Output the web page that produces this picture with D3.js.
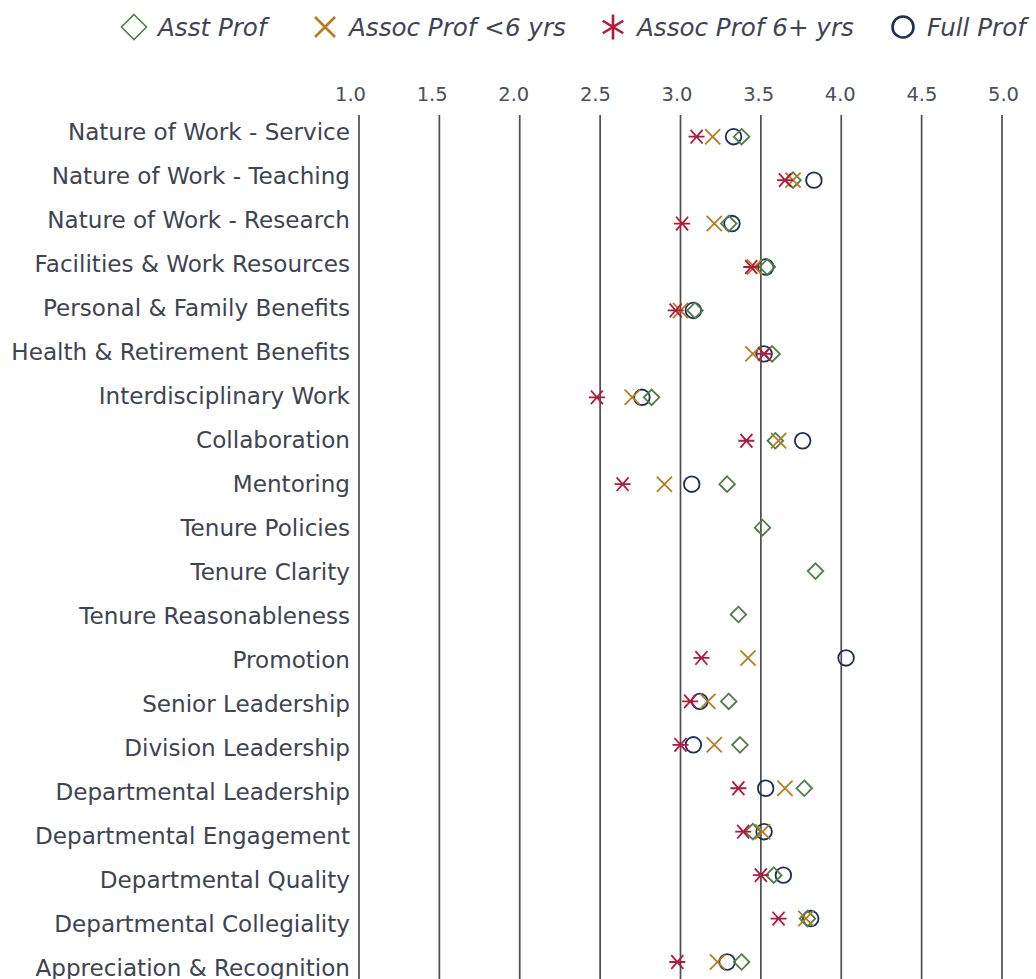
<!DOCTYPE html>
<html><head><meta charset="utf-8">
<script src="https://cdn.jsdelivr.net/npm/d3@7"></script>
<style>
html,body{margin:0;padding:0;background:#fff;}
svg{display:block;}
</style></head>
<body>
<svg id="chart" width="1036" height="979"></svg>
<script>
const categories = [
  "Nature of Work - Service","Nature of Work - Teaching","Nature of Work - Research",
  "Facilities & Work Resources","Personal & Family Benefits","Health & Retirement Benefits",
  "Interdisciplinary Work","Collaboration","Mentoring","Tenure Policies","Tenure Clarity",
  "Tenure Reasonableness","Promotion","Senior Leadership","Division Leadership",
  "Departmental Leadership","Departmental Engagement","Departmental Quality",
  "Departmental Collegiality","Appreciation & Recognition"
];
const seriesNames = ["Asst Prof","Assoc Prof <6 yrs","Assoc Prof 6+ yrs","Full Prof"];
const asstProf   = [3.38,3.70,3.30,3.54,3.09,3.57,2.82,3.59,3.29,3.51,3.84,3.36,null,3.30,3.37,3.77,3.45,3.58,3.79,3.38];
const assocLt6   = [3.20,3.70,3.21,3.46,3.00,3.45,2.70,3.61,2.90,null,null,null,3.42,3.17,3.21,3.65,3.51,null,3.78,3.23];
const assoc6Plus = [3.10,3.65,3.01,3.44,2.97,3.52,2.48,3.41,2.64,null,null,null,3.13,3.06,3.00,3.36,3.39,3.50,3.61,2.98];
const fullProf   = [3.33,3.83,3.32,3.53,3.08,3.52,2.76,3.76,3.07,null,null,null,4.03,3.12,3.08,3.53,3.52,3.64,3.81,3.29];
const tickValues = [1.0,1.5,2.0,2.5,3.0,3.5,4.0,4.5,5.0];

const colors = {"Asst Prof":"#4f7f46","Assoc Prof <6 yrs":"#b47d22","Assoc Prof 6+ yrs":"#b3183d","Full Prof":"#1d2f55"};
const textColor = "#3e4450";
const font = "'DejaVu Sans', sans-serif";

const svg = d3.select("#chart");
const x = d3.scaleLinear().domain([1,5]).range([359,1002]);
const xLabel = d3.scaleLinear().domain([1,5]).range([350,1003]);
const y = d3.scalePoint().domain(categories).range([136.7, 962]);
const yLabel = d3.scalePoint().domain(categories).range([132, 968]);

// gridlines
svg.append("g").selectAll("line").data(tickValues).join("line")
  .attr("x1", d=>x(d)).attr("x2", d=>x(d))
  .attr("y1", 115).attr("y2", 979)
  .attr("stroke", "#4d4d4d").attr("stroke-width", 1.7);

// top axis labels
const ax = svg.append("g").attr("transform","translate(0,94)")
  .call(d3.axisTop(xLabel).tickValues(tickValues).tickFormat(d3.format(".1f")).tickSize(0).tickPadding(0));
ax.select(".domain").remove();
ax.selectAll("text").attr("font-family", font).attr("font-size", 19.5)
  .attr("fill", "#4a4f58").attr("dy","0.35em");

// category labels
svg.append("g").selectAll("text").data(categories).join("text")
  .attr("x", 350).attr("y", d=>yLabel(d))
  .attr("text-anchor","end").attr("dominant-baseline","central")
  .attr("font-family", font).attr("font-size", 23.1).attr("fill", textColor)
  .text(d=>d);

function drawMarker(g, type, s, vertAst){
  if(type==="Asst Prof"){
    g.append("path").attr("d",`M0,${-s}L${s},0L0,${s}L${-s},0Z`).attr("fill","none");
  } else if(type==="Assoc Prof <6 yrs"){
    g.append("path").attr("d",`M${-s},${-s}L${s},${s}M${-s},${s}L${s},${-s}`);
  } else if(type==="Assoc Prof 6+ yrs"){
    if(vertAst){
      const a = s*0.82, b = s*0.5;
      g.append("path").attr("d",`M0,${-s}L0,${s}M${-a},${-b}L${a},${b}M${-a},${b}L${a},${-b}`);
    } else {
      const a = s*0.75, b = s*0.85;
      g.append("path").attr("d",`M${-s},0L${s},0M${-a},${-b}L${a},${b}M${-a},${b}L${a},${-b}`);
    }
  } else {
    g.append("circle").attr("r", s).attr("fill","none");
  }
}

const seriesData = [
  ["Full Prof", fullProf],
  ["Asst Prof", asstProf],
  ["Assoc Prof <6 yrs", assocLt6],
  ["Assoc Prof 6+ yrs", assoc6Plus]
];
const sizes = {"Asst Prof":7.8,"Assoc Prof <6 yrs":7.6,"Assoc Prof 6+ yrs":8,"Full Prof":7.8};
seriesData.forEach(([name, vals])=>{
  const pts = categories.map((c,i)=>({c, v: vals[i]})).filter(p=>p.v!=null);
  const g = svg.append("g");
  pts.forEach(p=>{
    const m = g.append("g").attr("transform",`translate(${x(p.v)},${y(p.c)})`)
      .attr("stroke", colors[name]).attr("stroke-width", 1.8).attr("fill","none");
    drawMarker(m, name, sizes[name], false);
  });
});

// legend
const legendPos = [134, 325, 613, 903];
const lg = svg.append("g");
seriesNames.forEach((name,i)=>{
  const m = lg.append("g").attr("transform",`translate(${legendPos[i]},27)`)
    .attr("stroke", colors[name]).attr("stroke-width", name==="Asst Prof"?1.6:2.6).attr("fill","none");
  const s = name==="Asst Prof"?12.5:(name==="Full Prof"?10.5:(name==="Assoc Prof <6 yrs"?10:12.5));
  drawMarker(m, name, s, true);
  lg.append("text").attr("x", legendPos[i]+24).attr("y", 27)
    .attr("dominant-baseline","central")
    .attr("font-family", font).attr("font-size", 24.6).attr("font-style","italic")
    .attr("fill", textColor).text(name);
});
</script>
</body></html>
